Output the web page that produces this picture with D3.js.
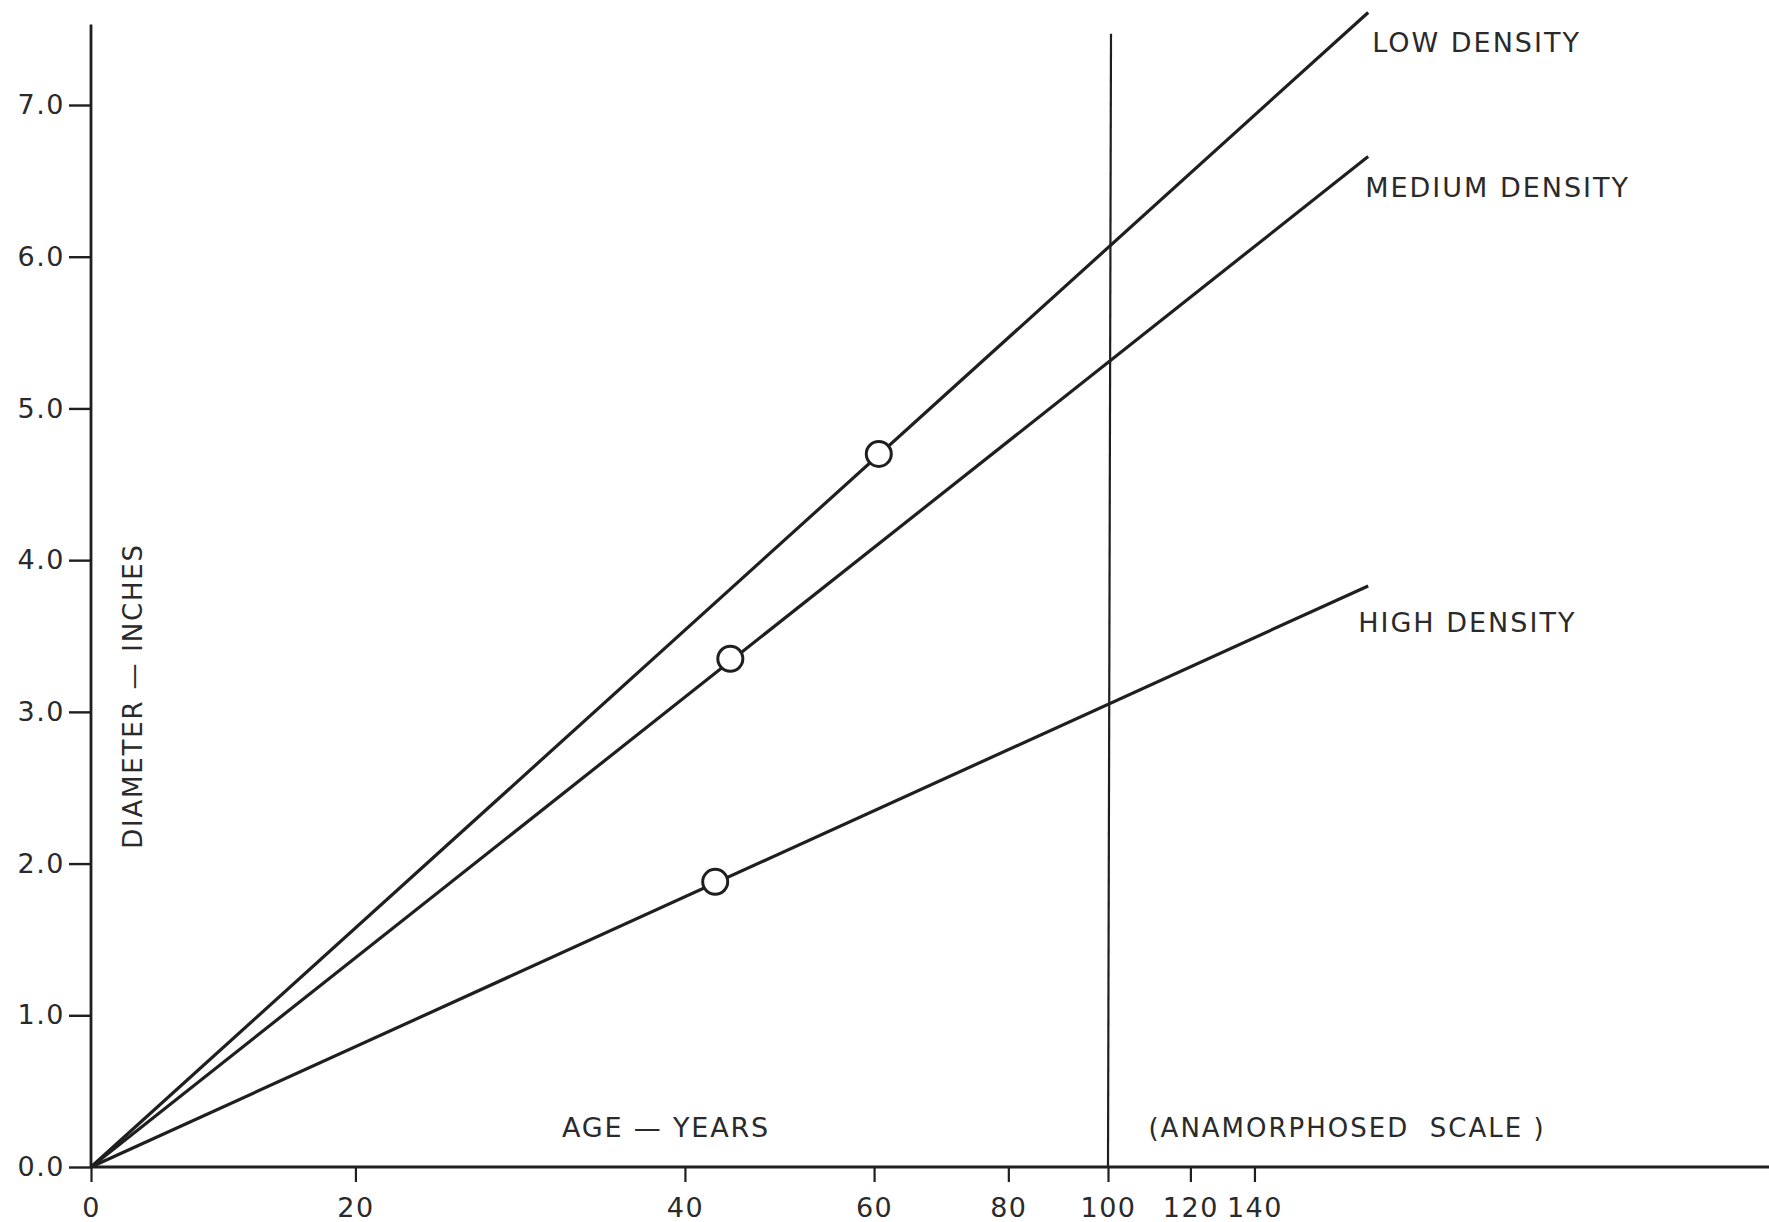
<!DOCTYPE html>
<html>
<head>
<meta charset="utf-8">
<script src="https://cdn.jsdelivr.net/npm/d3@7"></script>
<style>
  html, body { margin: 0; padding: 0; background: #fff; }
  svg { display: block; }
  text { font-family: "DejaVu Sans", sans-serif; fill: #2a2a2a; }
</style>
</head>
<body>
<svg id="chart" width="1769" height="1222"></svg>
<script>
// Age ticks and their position on the anamorphosed age scale (index 100 = age 100)
const ageTicks = [0, 20, 40, 60, 80, 100, 120, 140];
const ageIndex = [0, 26.0, 58.4, 77.0, 90.2, 100, 108.1, 114.4];

// Diameter ticks (inches)
const diameterTicks = [0, 1, 2, 3, 4, 5, 6, 7];

// Growth lines by stand density: [age, diameter in inches]
const lowDensity    = [[0, 0], [175.5, 7.61]];
const mediumDensity = [[0, 0], [175.5, 6.66]];
const highDensity   = [[0, 0], [175.5, 3.83]];

// Plotted observations: [age, diameter]
const lowPoint    = [60.7, 4.70];
const mediumPoint = [44.8, 3.35];
const highPoint   = [43.2, 1.88];

const seriesLabels = ["LOW DENSITY", "MEDIUM DENSITY", "HIGH DENSITY"];

const W = 1769, H = 1222;
const svg = d3.select("#chart");

// anamorphosed index -> pixels
const xIndex = d3.scaleLinear().domain([0, 100]).range([91, 1108]);
// age -> pixels, piecewise through the anamorphosed scale (extrapolates past 140)
const x = d3.scaleLinear().domain(ageTicks).range(ageIndex.map(xIndex));
const y = d3.scaleLinear().domain([0, 7]).range([1167, 105]);

const ink = "#1f1f1f";

// Y axis
const yAxis = d3.axisLeft(y)
  .tickValues(diameterTicks)
  .tickFormat(d3.format(".1f"))
  .tickSize(22)
  .tickPadding(4);
const gy = svg.append("g").attr("transform", `translate(${x(0)},0)`).call(yAxis);
gy.select(".domain").remove();
gy.selectAll(".tick line").attr("stroke", ink).attr("stroke-width", 2.4);
gy.selectAll(".tick text")
  .style("font-size", "27px")
  .style("letter-spacing", "1.5px")
  .attr("fill", "#2a2a2a");
svg.append("line")
  .attr("x1", x(0)).attr("x2", x(0))
  .attr("y1", y(7.53)).attr("y2", y(0))
  .attr("stroke", ink).attr("stroke-width", 2.8);

// X axis
const xAxis = d3.axisBottom(x)
  .tickValues(ageTicks)
  .tickFormat(d3.format("d"))
  .tickSize(15)
  .tickPadding(16);
const gx = svg.append("g").attr("transform", `translate(0,${y(0)})`).call(xAxis);
gx.select(".domain").remove();
gx.selectAll(".tick line").attr("stroke", ink).attr("stroke-width", 2.2);
gx.selectAll(".tick text")
  .style("font-size", "27px")
  .style("letter-spacing", "1.5px")
  .attr("fill", "#2a2a2a");
svg.append("line")
  .attr("x1", x(0)).attr("x2", W)
  .attr("y1", y(0)).attr("y2", y(0))
  .attr("stroke", ink).attr("stroke-width", 3);

// Vertical reference at age 100
svg.append("line")
  .attr("x1", x(100) + 3).attr("x2", x(100))
  .attr("y1", y(7.47)).attr("y2", y(0))
  .attr("stroke", ink).attr("stroke-width", 2.2);

// Growth lines
const line = d3.line().x(d => x(d[0])).y(d => y(d[1]));
[lowDensity, mediumDensity, highDensity].forEach(s => {
  svg.append("path")
    .attr("d", line(s))
    .attr("fill", "none")
    .attr("stroke", ink)
    .attr("stroke-width", 3.2);
});

// Observation circles
[lowPoint, mediumPoint, highPoint].forEach(p => {
  svg.append("circle")
    .attr("cx", x(p[0])).attr("cy", y(p[1]))
    .attr("r", 12.5)
    .attr("fill", "#fff")
    .attr("stroke", ink)
    .attr("stroke-width", 3);
});

// Series labels, placed just right of each line end
const ends = [lowDensity, mediumDensity, highDensity].map(s => s[s.length - 1]);
const labelOffsets = [[4, 40], [-3, 40], [-10, 46]];
seriesLabels.forEach((t, i) => {
  svg.append("text")
    .attr("x", x(ends[i][0]) + labelOffsets[i][0])
    .attr("y", y(ends[i][1]) + labelOffsets[i][1])
    .style("font-size", "27px")
    .style("letter-spacing", "2px")
    .text(t);
});

// Axis titles
svg.append("text")
  .attr("x", 666).attr("y", 1137)
  .attr("text-anchor", "middle")
  .style("font-size", "27px")
  .style("letter-spacing", "1.8px")
  .text("AGE — YEARS");

svg.append("text")
  .attr("x", 1347).attr("y", 1137)
  .attr("text-anchor", "middle")
  .style("font-size", "26px")
  .style("letter-spacing", "2px")
  .style("white-space", "pre")
  .text("(ANAMORPHOSED  SCALE )");

svg.append("text")
  .attr("transform", `translate(142,696) rotate(-90)`)
  .attr("text-anchor", "middle")
  .style("font-size", "26px")
  .style("letter-spacing", "1.8px")
  .text("DIAMETER — INCHES");
</script>
</body>
</html>
